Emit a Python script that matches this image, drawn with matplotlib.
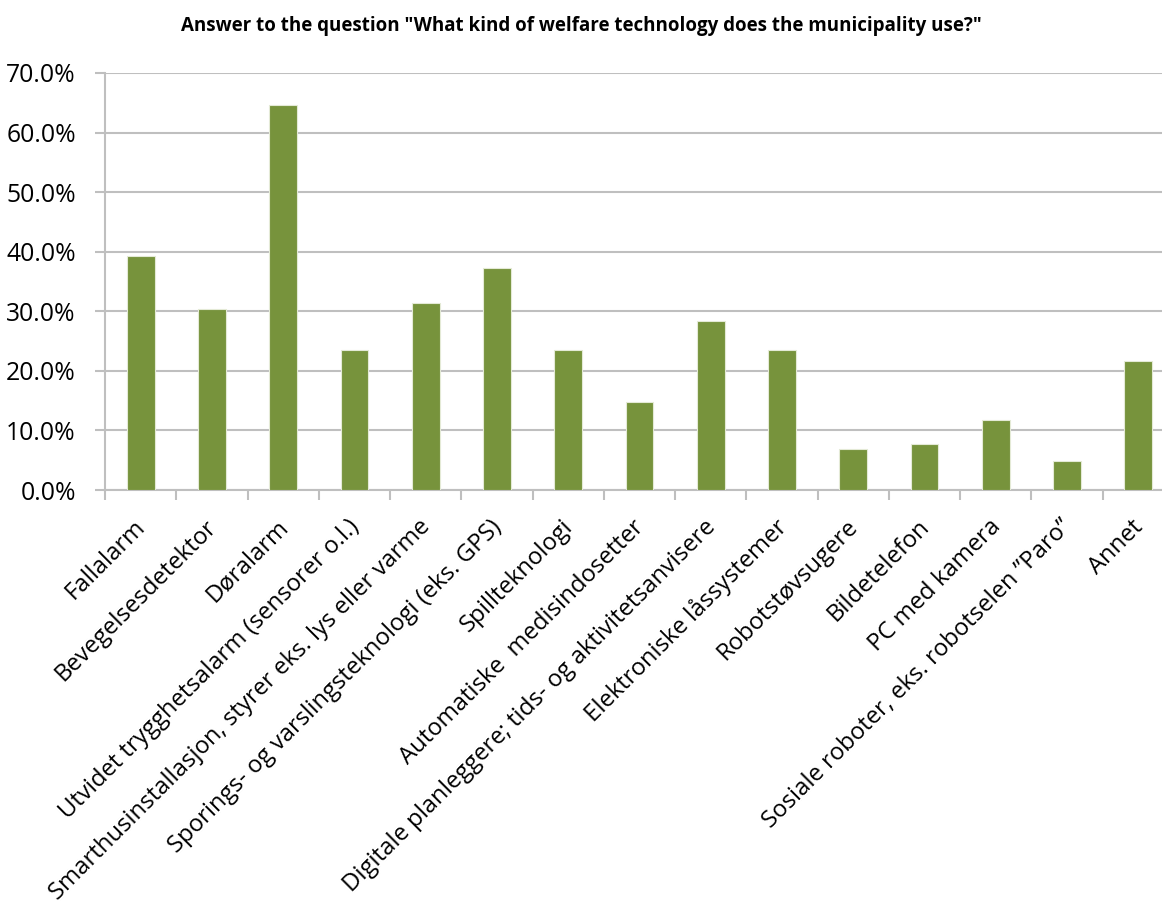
import numpy as np
import matplotlib.pyplot as plt
from matplotlib.transforms import ScaledTranslation

plt.rcParams['font.family'] = ['Open Sans', 'DejaVu Sans']

# survey answers, share of municipalities (n = 102)
categories = [
    "Fallalarm",
    "Bevegelsesdetektor",
    "Døralarm",
    "Utvidet trygghetsalarm (sensorer o.l.)",
    "Smarthusinstallasjon, styrer eks. lys eller varme",
    "Sporings- og varslingsteknologi (eks. GPS)",
    "Spillteknologi",
    "Automatiske  medisindosetter",
    "Digitale planleggere; tids- og aktivitetsanvisere",
    "Elektroniske låssystemer",
    "Robotstøvsugere",
    "Bildetelefon",
    "PC med kamera",
    "Sosiale roboter, eks. robotselen \u201dParo\u201d",
    "Annet",
]
shares = [39.2, 30.4, 64.7, 23.5, 31.4, 37.3, 23.5, 14.7, 28.4, 23.5,
          6.9, 7.8, 11.8, 4.9, 21.6]
yticks = [0, 10, 20, 30, 40, 50, 60, 70]

bar_color = "#77933C"
grid_color = "#BFBFBF"

fig = plt.figure(figsize=(11.62, 9.02), dpi=100)
ax = fig.add_axes([105 / 1162, 412 / 902, 1069 / 1162, 417 / 902])

x = np.arange(len(categories))
ax.bar(x, shares, width=0.39, color=bar_color, edgecolor="#E4EAD6",
       linewidth=0.8, zorder=3)

ax.set_ylim(0, 70)
ax.set_xlim(-0.5, len(categories) - 0.5)
ax.set_yticks(yticks)
ax.set_yticklabels([f"{v:.1f}%" for v in yticks], fontsize=17.8)
ax.yaxis.grid(True, color=grid_color, linewidth=1.5, zorder=0)

# tick marks on the category boundaries
ax.set_xticks(np.arange(len(categories) + 1) - 0.5)
ax.set_xticklabels([])
ax.tick_params(axis="x", length=7, width=1.5, color=grid_color)
ax.tick_params(axis="y", length=7, width=1.5, color=grid_color, pad=14)

# rotated category names, anchored by their upper-right corner under each bar
label_offset = ScaledTranslation(-0.07, -0.25, fig.dpi_scale_trans)
for xi, name in zip(x, categories):
    ax.text(xi, 0, name, transform=ax.get_xaxis_transform() + label_offset,
            rotation=45, ha="right", va="top", rotation_mode="anchor",
            fontsize=17.2, clip_on=False)

for side in ["top", "right"]:
    ax.spines[side].set_visible(False)
for side in ["left", "bottom"]:
    ax.spines[side].set_color(grid_color)
    ax.spines[side].set_linewidth(1.5)

fig.text(0.5, 1 - 26 / 902,
         'Answer to the question "What kind of welfare technology does the municipality use?"',
         ha="center", va="center", fontsize=13.5, fontweight="bold")

fig.savefig("out.png", dpi=100)
